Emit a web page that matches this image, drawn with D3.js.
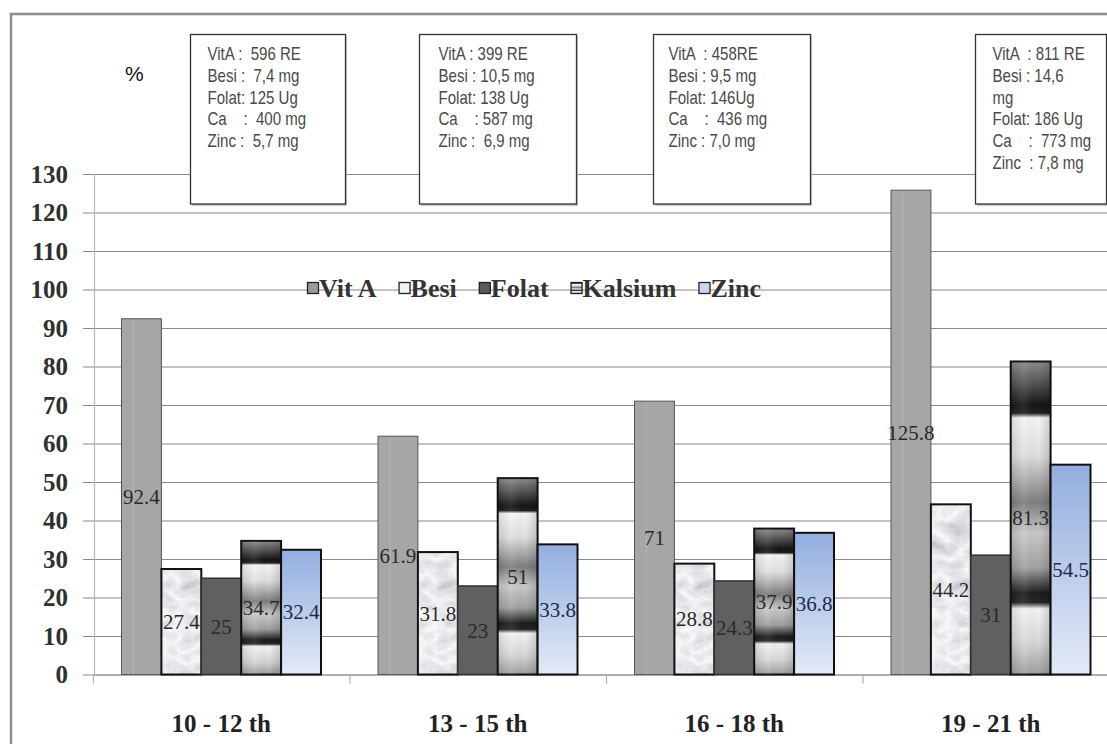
<!DOCTYPE html>
<html><head><meta charset="utf-8">
<script src="https://cdn.jsdelivr.net/npm/d3@7"></script>
<style>
html,body{margin:0;padding:0;background:#fff;}
svg{display:block;}
</style></head>
<body>
<svg id="chart" width="1107" height="744"></svg>
<script>
// ---- data ----
const categories = ["10 - 12 th", "13 - 15 th", "16 - 18 th", "19 - 21 th"];
const series = ["Vit A", "Besi", "Folat", "Kalsium", "Zinc"];
const vitA    = [92.4, 61.9, 71, 125.8];
const besi    = [27.4, 31.8, 28.8, 44.2];
const folat   = [25, 23, 24.3, 31];
const kalsium = [34.7, 51, 37.9, 81.3];
const zinc    = [32.4, 33.8, 36.8, 54.5];
const yTicks  = [0, 10, 20, 30, 40, 50, 60, 70, 80, 90, 100, 110, 120, 130];
const boxLines = [
  ["VitA :  596 RE", "Besi :  7,4 mg", "Folat: 125 Ug", "Ca    :  400 mg", "Zinc :  5,7 mg"],
  ["VitA : 399 RE", "Besi : 10,5 mg", "Folat: 138 Ug", "Ca    : 587 mg", "Zinc :  6,9 mg"],
  ["VitA  : 458RE", "Besi : 9,5 mg", "Folat: 146Ug", "Ca    :  436 mg", "Zinc : 7,0 mg"],
  ["VitA  : 811 RE", "Besi : 14,6", "mg", "Folat: 186 Ug", "Ca    :  773 mg", "Zinc  : 7,8 mg"]
];
const unitLabel = "%";

const valuesBySeries = {"Vit A": vitA, "Besi": besi, "Folat": folat, "Kalsium": kalsium, "Zinc": zinc};
const table = categories.map((c, i) => ({cat: c, vals: series.map(s => ({s, v: valuesBySeries[s][i]}))}));

// ---- layout ----
const W = 1107, H = 744;
const boxLeft  = [190, 419, 653, 975];
const boxWidth = [155, 157, 157, 131];
const boxTextX = [17, 19, 15, 17];

const svg = d3.select("#chart");
const defs = svg.append("defs");

// gradients / textures
const kg = defs.append("linearGradient").attr("id", "kalsGrad").attr("x1", 0).attr("y1", 0).attr("x2", 0).attr("y2", 1);
[[0, "#8c8c8c"], [0.08, "#4a4a4a"], [0.14, "#151515"], [0.165, "#202020"], [0.18, "#f4f4f4"], [0.3, "#dedede"],
 [0.45, "#7e7e7e"], [0.55, "#c9c9c9"], [0.66, "#a0a0a0"], [0.74, "#1c1c1c"], [0.77, "#262626"], [0.79, "#f2f2f2"],
 [0.9, "#d6d6d6"], [1, "#9e9e9e"]].forEach(([o, c]) => kg.append("stop").attr("offset", o).attr("stop-color", c));
const kh = defs.append("linearGradient").attr("id", "kalsH").attr("x1", 0).attr("y1", 0).attr("x2", 1).attr("y2", 0);
[[0, "rgba(0,0,0,0.12)"], [0.35, "rgba(255,255,255,0.08)"], [0.7, "rgba(0,0,0,0)"], [1, "rgba(0,0,0,0.15)"]]
  .forEach(([o, c]) => kh.append("stop").attr("offset", o).attr("stop-color", c));

const zg = defs.append("linearGradient").attr("id", "zincGrad").attr("x1", 0).attr("y1", 0).attr("x2", 0).attr("y2", 1);
[[0, "#93aedf"], [1, "#e3eaf6"]].forEach(([o, c]) => zg.append("stop").attr("offset", o).attr("stop-color", c));

const mf = defs.append("filter").attr("id", "marble").attr("x", 0).attr("y", 0).attr("width", 1).attr("height", 1);
mf.append("feTurbulence").attr("type", "turbulence").attr("baseFrequency", "0.035 0.05").attr("numOctaves", 3).attr("seed", 7);
mf.append("feColorMatrix").attr("type", "matrix")
  .attr("values", "-0.55 0 0 0 0.97  -0.55 0 0 0 0.975  -0.5 0 0 0 0.985  0 0 0 0 1");

// outer frame
svg.append("rect").attr("x", 11).attr("y", 14).attr("width", W + 20).attr("height", H + 20)
  .attr("fill", "none").attr("stroke", "#8e8e8e").attr("stroke-width", 2.5);

const x0 = d3.scaleBand().domain(categories).range([93, 1119]).padding(0);
const x1 = d3.scaleBand().domain(series).range([28.5, x0.bandwidth() - 28.5]).padding(0);
const y = d3.scaleLinear().domain([0, 130]).range([674.5, 174]);

// y axis with gridlines
const yAxis = d3.axisLeft(y).tickValues(yTicks).tickSize(-(W - 83)).tickPadding(15);
const ya = svg.append("g").attr("transform", "translate(83,0)").call(yAxis);
ya.select(".domain").remove();
ya.selectAll(".tick line").attr("stroke", "#8a8a8a").attr("stroke-width", 1.2);
ya.selectAll(".tick text").attr("font-family", "'Liberation Serif','Times New Roman',serif")
  .attr("font-size", 25).attr("font-weight", "bold").attr("fill", "#303030");

// vertical axis line
svg.append("line").attr("x1", 94.5).attr("x2", 94.5).attr("y1", y(130)).attr("y2", y(0))
  .attr("stroke", "#b8b8b8").attr("stroke-width", 1.2);

// x axis
const xa = svg.append("g").attr("transform", `translate(0,${y(0)})`)
  .call(d3.axisBottom(x0).tickSize(0).tickPadding(40));
xa.select(".domain").attr("stroke", "#9a9a9a");
xa.selectAll(".tick text").attr("font-family", "'Liberation Serif','Times New Roman',serif")
  .attr("font-size", 25).attr("font-weight", "bold").attr("fill", "#222");
// category separator ticks
const seps = categories.map(c => x0(c)).concat([x0.range()[1]]);
svg.append("g").selectAll("line").data(seps).join("line")
  .attr("x1", d => d + 0.5).attr("x2", d => d + 0.5).attr("y1", y(0)).attr("y2", y(0) + 9)
  .attr("stroke", "#b0b0b0").attr("stroke-width", 1.2);

// info boxes (drawn over gridlines)
const boxG = svg.append("g");
boxLines.forEach((lines, i) => {
  const g = boxG.append("g").attr("transform", `translate(${boxLeft[i] + 0.5},34.5)`);
  g.append("rect").attr("x", 1.5).attr("y", 1.5).attr("width", boxWidth[i]).attr("height", 170)
    .attr("fill", "#c8c8c8");
  g.append("rect").attr("width", boxWidth[i]).attr("height", 169.5)
    .attr("fill", "#fff").attr("stroke", "#333").attr("stroke-width", 1.3);
  g.selectAll("text").data(lines).join("text")
    .attr("transform", (d, j) => `translate(${boxTextX[i]},${25.5 + j * 21.8}) scale(0.86,1)`)
    .attr("font-family", "'Liberation Sans Narrow','Arial Narrow','Liberation Sans',Arial,sans-serif")
    .attr("font-size", 17.5).attr("fill", "#4a4a4a")
    .style("white-space", "pre")
    .text(d => d);
});

svg.append("text").attr("x", 125).attr("y", 81).attr("font-family", "'Liberation Sans',Arial,sans-serif")
  .attr("font-size", 21).attr("fill", "#111").text(unitLabel);

// bars
const fills = {"Vit A": "#a6a6a6", "Besi": "#e8eaec", "Folat": "#606060", "Kalsium": "url(#kalsGrad)", "Zinc": "url(#zincGrad)"};
const strokes = {"Vit A": "#555", "Besi": "#111", "Folat": "#333", "Kalsium": "#111", "Zinc": "#111"};
const sw = {"Vit A": 1, "Besi": 2, "Folat": 1.5, "Kalsium": 2, "Zinc": 2};

const groups = svg.append("g").selectAll("g").data(table).join("g")
  .attr("transform", d => `translate(${x0(d.cat)},0)`);
groups.each(function (d) {
  const g = d3.select(this);
  d.vals.forEach(({s, v}) => {
    const bx = x1(s), bw = x1.bandwidth(), by = y(v), bh = y(0) - y(v);
    if (s === "Besi") {
      g.append("rect").attr("x", bx).attr("y", by).attr("width", bw).attr("height", bh)
        .attr("fill", "#e8eaec").attr("filter", "url(#marble)");
      g.append("rect").attr("x", bx).attr("y", by).attr("width", bw).attr("height", bh)
        .attr("fill", "none").attr("stroke", strokes[s]).attr("stroke-width", sw[s]);
    } else {
      g.append("rect").attr("x", bx).attr("y", by).attr("width", bw).attr("height", bh)
        .attr("fill", fills[s]).attr("stroke", strokes[s]).attr("stroke-width", sw[s]);
      if (s === "Kalsium") {
        g.append("rect").attr("x", bx).attr("y", by).attr("width", bw).attr("height", bh)
          .attr("fill", "url(#kalsH)");
      }
      if (s === "Vit A") {
        g.append("line").attr("x1", bx + 12).attr("x2", bx + 12).attr("y1", by + 2).attr("y2", y(0))
          .attr("stroke", "#b4b4b4").attr("stroke-width", 1);
      }
    }
  });
});
// data labels
groups.each(function (d) {
  d3.select(this).selectAll("text.lbl").data(d.vals).join("text").attr("class", "lbl")
    .attr("x", e => x1(e.s) + x1.bandwidth() / 2)
    .attr("y", e => (y(e.v) + y(0)) / 2)
    .attr("dy", "0.35em").attr("text-anchor", "middle")
    .attr("font-family", "'Liberation Serif','Times New Roman',serif").attr("font-size", 21)
    .attr("fill", e => e.s === "Zinc" ? "#1d2b4c" : "#2a2a2a")
    .text(e => e.v);
});

// legend
const legFills = {"Vit A": "#9a9a9a", "Besi": "#f2f2f2", "Folat": "#5a5a5a", "Kalsium": "url(#kalsGrad)", "Zinc": "#c9d6f0"};
const leg = svg.append("g");
let lx = 307;
series.forEach(s => {
  leg.append("rect").attr("x", lx + 0.5).attr("y", 282.5).attr("width", 11).attr("height", 11)
    .attr("fill", legFills[s]).attr("stroke", "#222").attr("stroke-width", 1.3);
  const t = leg.append("text").attr("x", lx + 12).attr("y", 297)
    .attr("font-family", "'Liberation Serif','Times New Roman',serif").attr("font-size", 26)
    .attr("font-weight", "bold").attr("fill", "#333").text(s);
  lx += 12 + t.node().getComputedTextLength() + 22;
});
</script>
</body></html>
